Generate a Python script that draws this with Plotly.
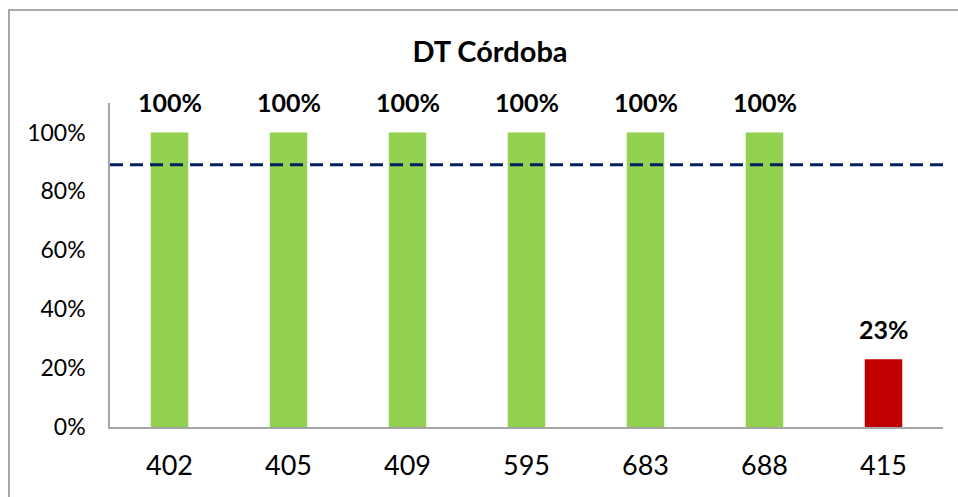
import plotly.graph_objects as go

categories = ["402", "405", "409", "595", "683", "688", "415"]
values = [1.00, 1.00, 1.00, 1.00, 1.00, 1.00, 0.23]
colors = ["#92D050"] * 6 + ["#C00000"]
labels = ["100%", "100%", "100%", "100%", "100%", "100%", "23%"]
target = 0.89
title_text = "DT Córdoba"

FONT = "Lato"

W, H = 958, 497
L, R, T, B = 110, 15, 103, 70
pw, ph = W - L - R, H - T - B

fig = go.Figure()
fig.add_trace(go.Bar(
    x=categories, y=values, marker=dict(color=colors, line=dict(width=0)),
    width=0.315, showlegend=False, hoverinfo="skip",
))

for i, (v, t) in enumerate(zip(values, labels)):
    fig.add_annotation(x=i, y=v, text="<b>%s</b>" % t, showarrow=False,
                       yanchor="bottom", yshift=13,
                       font=dict(family=FONT, size=25, color="#000000"))

fig.add_shape(type="line", xref="paper", x0=0, x1=1, yref="y", y0=target, y1=target,
              line=dict(color="#002060", width=3, dash="13px,7px"))

# outer chart border (extends past right/bottom edge as in the reference)
fig.add_shape(type="rect", xref="paper", yref="paper",
              x0=(9 - L) / pw, x1=(W + 10 - L) / pw,
              y0=-(B + 10) / ph, y1=(H - B - 10) / ph,
              line=dict(color="#8C8C8C", width=1.5), layer="below")

fig.update_layout(
    width=W, height=H, autosize=False,
    margin=dict(l=L, r=R, t=T, b=B),
    paper_bgcolor="white", plot_bgcolor="white",
    title=dict(text="<b>%s</b>" % title_text, x=490 / W, xanchor="center",
               y=1 - 52 / H, yanchor="middle",
               font=dict(family=FONT, size=29, color="#000000")),
    xaxis=dict(type="category", range=[-0.5, len(categories) - 0.5],
               showline=True, linecolor="#A6A6A6", linewidth=1.5, ticks="",
               tickfont=dict(family=FONT, size=27, color="#000000"),
               showgrid=False, zeroline=False, fixedrange=True, ticklabelstandoff=14),
    yaxis=dict(range=[0, 1.1], dtick=0.2, tickformat=".0%", showline=True,
               linecolor="#A6A6A6", linewidth=1.5, ticks="", showgrid=False,
               zeroline=False, tickfont=dict(family=FONT, size=23, color="#000000"),
               fixedrange=True, ticklabelstandoff=18),
)

fig.write_html("out.html", config={"displayModeBar": False},
               post_script="document.body.style.margin='0';document.body.style.overflow='hidden';")
